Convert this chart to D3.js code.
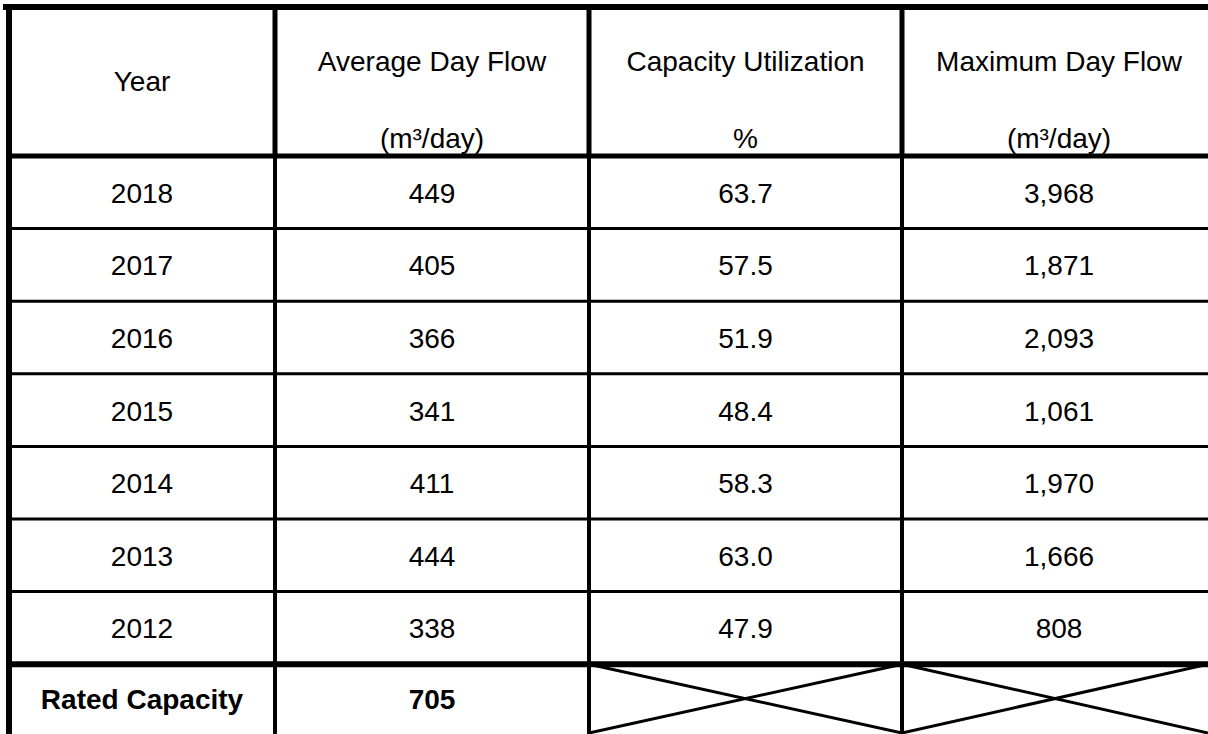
<!DOCTYPE html>
<html>
<head>
<meta charset="utf-8">
<script src="https://cdn.jsdelivr.net/npm/d3@7"></script>
<style>
  html, body { margin: 0; padding: 0; background: #fff; overflow: hidden; }
  svg { display: block; }
  text { font-family: "Liberation Sans", Arial, sans-serif; fill: #000; }
</style>
</head>
<body>
<svg id="chart" width="1208" height="734"></svg>
<script>
// ---- data ----
const headers = ["Year", "Average Day Flow", "Capacity Utilization", "Maximum Day Flow"];
const units = ["", "(m³/day)", "%", "(m³/day)"];
const years = ["2018", "2017", "2016", "2015", "2014", "2013", "2012"];
const avgDayFlow = [449, 405, 366, 341, 411, 444, 338];
const capacityUtilization = [63.7, 57.5, 51.9, 48.4, 58.3, 63.0, 47.9];
const maxDayFlow = [3968, 1871, 2093, 1061, 1970, 1666, 808];
const ratedLabel = "Rated Capacity";
const ratedCapacity = 705;

// ---- layout ----
const W = 1208, H = 734;
const colEdges = [9, 275, 589, 902, 1216];
const fontSize = 28;
const svg = d3.select("#chart");

const yTop = 7, yHeadBottom = 156, rowH = 72.6;
const nRows = years.length + 1;
const y = d3.scaleLinear().domain([0, nRows]).range([yHeadBottom, yHeadBottom + rowH * nRows]);
const x = d3.scaleOrdinal().domain(d3.range(4)).range(colEdges.slice(0, 4));
const colW = i => colEdges[i + 1] - colEdges[i];
const colC = i => x(i) + colW(i) / 2;

const fmtInt = d3.format(",");
const fmtPct = d3.format(".1f");

const rows = years.map((yr, i) => [yr, fmtInt(avgDayFlow[i]), fmtPct(capacityUtilization[i]), fmtInt(maxDayFlow[i])]);

svg.append("rect").attr("width", W).attr("height", H).attr("fill", "#fff");

// ---- header text ----
const g = svg.append("g");
headers.forEach((h, i) => {
  if (units[i] === "") {
    g.append("text").attr("x", colC(i)).attr("y", (yTop + yHeadBottom) / 2)
      .attr("text-anchor", "middle").attr("dominant-baseline", "central")
      .attr("font-size", fontSize).text(h);
  } else {
    g.append("text").attr("x", colC(i)).attr("y", 71)
      .attr("text-anchor", "middle").attr("font-size", fontSize).text(h);
    g.append("text").attr("x", colC(i)).attr("y", 148)
      .attr("text-anchor", "middle").attr("font-size", fontSize).text(units[i]);
  }
});

// ---- body text ----
rows.forEach((r, ri) => {
  r.forEach((v, ci) => {
    g.append("text").attr("x", colC(ci)).attr("y", (y(ri) + y(ri + 1)) / 2 + 1)
      .attr("text-anchor", "middle").attr("dominant-baseline", "central")
      .attr("font-size", fontSize).text(v);
  });
});
const ri = years.length;
g.append("text").attr("x", colC(0)).attr("y", (y(ri) + y(ri + 1)) / 2 - 1)
  .attr("text-anchor", "middle").attr("dominant-baseline", "central")
  .attr("font-size", fontSize).attr("font-weight", "bold").text(ratedLabel);
g.append("text").attr("x", colC(1)).attr("y", (y(ri) + y(ri + 1)) / 2 - 1)
  .attr("text-anchor", "middle").attr("dominant-baseline", "central")
  .attr("font-size", fontSize).attr("font-weight", "bold").text(fmtInt(ratedCapacity));

// ---- grid lines ----
const lines = svg.append("g").attr("stroke", "#000").attr("fill", "none");
const yBottom = y(nRows);
for (let k = 1; k < years.length; k++) {
  lines.append("line").attr("x1", colEdges[0]).attr("x2", W + 10)
    .attr("y1", y(k)).attr("y2", y(k)).attr("stroke-width", 3);
}
lines.append("line").attr("x1", colEdges[0]).attr("x2", W + 10)
  .attr("y1", y(years.length)).attr("y2", y(years.length)).attr("stroke-width", 6);
lines.append("line").attr("x1", 3).attr("x2", W + 10)
  .attr("y1", yTop).attr("y2", yTop).attr("stroke-width", 6);
lines.append("line").attr("x1", colEdges[0]).attr("x2", W + 10)
  .attr("y1", yHeadBottom).attr("y2", yHeadBottom).attr("stroke-width", 5);
lines.append("line").attr("x1", colEdges[0]).attr("x2", colEdges[0])
  .attr("y1", yTop - 3).attr("y2", yBottom).attr("stroke-width", 6);
for (let c = 1; c < 4; c++) {
  lines.append("line").attr("x1", colEdges[c]).attr("x2", colEdges[c])
    .attr("y1", yTop).attr("y2", yHeadBottom).attr("stroke-width", 5);
  lines.append("line").attr("x1", colEdges[c]).attr("x2", colEdges[c])
    .attr("y1", yHeadBottom).attr("y2", yBottom).attr("stroke-width", 4);
}
const crossBottom = 733;
[2, 3].forEach(c => {
  const x0 = colEdges[c], x1 = c === 3 ? W : colEdges[c + 1];
  const y0 = y(years.length);
  lines.append("line").attr("x1", x0).attr("y1", y0).attr("x2", x1).attr("y2", crossBottom).attr("stroke-width", 3);
  lines.append("line").attr("x1", x0).attr("y1", crossBottom).attr("x2", x1).attr("y2", y0).attr("stroke-width", 3);
});
</script>
</body>
</html>
